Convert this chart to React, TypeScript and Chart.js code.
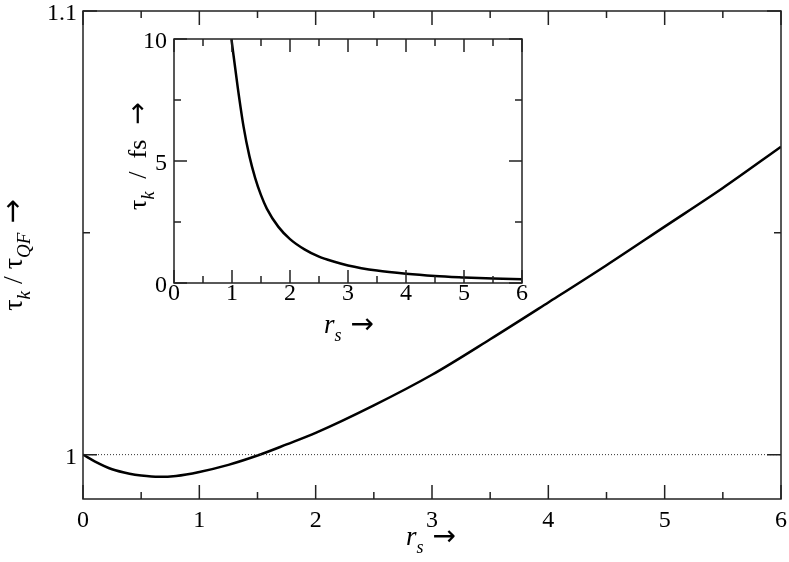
import React, { useEffect, useRef } from 'react';
import { Chart, registerables } from 'chart.js';

Chart.register(...registerables);

// ---- data ----
const mainR = [0, 0.1, 0.25, 0.4, 0.5, 0.65, 0.8, 1.0, 1.25, 1.5, 1.75, 2.0, 2.5, 3.0, 3.5, 4.0, 4.5, 5.0, 5.5, 6.0];
const mainTau = [1.0, 0.9985, 0.9967, 0.9957, 0.9953, 0.995, 0.9952, 0.9961, 0.9977, 0.9998, 1.0023, 1.0049, 1.0111, 1.018, 1.026, 1.0343, 1.0427, 1.0514, 1.0601, 1.0694];
const refR = [0, 6];
const refTau = [1, 1];
const insetR = [0.99, 1.1, 1.2, 1.3, 1.4, 1.5, 1.6, 1.8, 2.0, 2.25, 2.5, 2.75, 3.0, 3.5, 4.0, 4.5, 5.0, 5.5, 6.0];
const insetTau = [10, 8.0, 6.4, 5.2, 4.3, 3.6, 3.05, 2.3, 1.8, 1.38, 1.08, 0.88, 0.72, 0.51, 0.38, 0.29, 0.23, 0.18, 0.15];

// ---- ticks ----
const mainXLabels = [0, 1, 2, 3, 4, 5, 6];
const mainXMinor = [0.5, 1.5, 2.5, 3.5, 4.5, 5.5];
const mainYLabels = [1, 1.1];
const mainYMinor = [1.05];
const insetXLabels = [0, 1, 2, 3, 4, 5, 6];
const insetXMinor = [0.5, 1.5, 2.5, 3.5, 4.5, 5.5];
const insetYLabels = [0, 5, 10];
const insetYMinor = [2.5, 7.5];

const SERIF = '"Liberation Serif"';
const ARROW = '"DejaVu Sans"';

type Part = { t: string; it?: boolean; sub?: boolean; fam?: string; scale?: number };

function drawRich(ctx: CanvasRenderingContext2D, parts: Part[], cx: number, cy: number, size: number, rotate: boolean) {
  ctx.save();
  ctx.translate(cx, cy);
  if (rotate) ctx.rotate(-Math.PI / 2);
  const fontOf = (p: Part) =>
    `${p.it ? 'italic ' : ''}${Math.round(size * (p.sub ? 0.68 : 1) * (p.scale || 1))}px ${p.fam || SERIF}`;
  let total = 0;
  const widths = parts.map((p) => {
    ctx.font = fontOf(p);
    const w = ctx.measureText(p.t).width;
    total += w;
    return w;
  });
  let x = -total / 2;
  ctx.fillStyle = '#000';
  ctx.textBaseline = 'alphabetic';
  ctx.textAlign = 'left';
  parts.forEach((p, i) => {
    ctx.font = fontOf(p);
    ctx.fillText(p.t, x, p.sub ? size * 0.3 : 0);
    x += widths[i];
  });
  ctx.restore();
}

type FrameSpec = {
  id: string;
  xMajor: number[];
  xMinor: number[];
  yMajor: number[];
  yMinor: number[];
  major: number;
  minor: number;
  xLabelDy: number; // baseline offset below plot bottom
  yLabelDx: number; // right edge offset left of plot left
  titles: (ctx: CanvasRenderingContext2D) => void;
};

function framePlugin(spec: FrameSpec) {
  return {
    id: spec.id,
    afterDatasetsDraw(chart: any) {
      const ctx: CanvasRenderingContext2D = chart.ctx;
      const a = chart.chartArea;
      const xs = chart.scales.x;
      const ys = chart.scales.y;
      ctx.save();
      ctx.strokeStyle = '#222';
      ctx.lineWidth = 1.5;
      ctx.strokeRect(a.left, a.top, a.right - a.left, a.bottom - a.top);
      ctx.beginPath();
      const xt = (vals: number[], len: number) => {
        vals.forEach((v) => {
          const px = xs.getPixelForValue(v);
          ctx.moveTo(px, a.bottom);
          ctx.lineTo(px, a.bottom - len);
          ctx.moveTo(px, a.top);
          ctx.lineTo(px, a.top + len);
        });
      };
      const yt = (vals: number[], len: number) => {
        vals.forEach((v) => {
          const py = ys.getPixelForValue(v);
          ctx.moveTo(a.left, py);
          ctx.lineTo(a.left + len, py);
          ctx.moveTo(a.right, py);
          ctx.lineTo(a.right - len, py);
        });
      };
      xt(spec.xMajor, spec.major);
      xt(spec.xMinor, spec.minor);
      yt(spec.yMajor, spec.major);
      yt(spec.yMinor, spec.minor);
      ctx.stroke();

      // tick labels
      ctx.fillStyle = '#000';
      ctx.font = `24px ${SERIF}`;
      ctx.textBaseline = 'alphabetic';
      ctx.textAlign = 'center';
      spec.xMajor.forEach((v) => {
        ctx.fillText(String(v), xs.getPixelForValue(v), a.bottom + spec.xLabelDy);
      });
      ctx.textAlign = 'right';
      spec.yMajor.forEach((v) => {
        ctx.fillText(String(v), a.left - spec.yLabelDx, ys.getPixelForValue(v) + 9);
      });

      spec.titles(ctx);
      ctx.restore();
    },
  };
}

const pts = (xs: number[], ys: number[]) => xs.map((x, i) => ({ x, y: ys[i] }));

function axisScale(min: number, max: number, labels: number[], pos: 'x' | 'y', size: number) {
  return {
    type: 'linear',
    min,
    max,
    grid: { display: false },
    border: { display: false },
    afterBuildTicks: (scale: any) => {
      scale.ticks = labels.map((v) => ({ value: v }));
    },
    afterFit: (scale: any) => {
      if (pos === 'x') {
        scale.height = size;
        scale.paddingLeft = 0;
        scale.paddingRight = 0;
      } else {
        scale.width = size;
        scale.paddingTop = 0;
        scale.paddingBottom = 0;
      }
    },
    ticks: { display: false },
  };
}

const arrowPart: Part = { t: ' \u2192', fam: ARROW, scale: 1.04 };

export default function App() {
  const mainRef = useRef<HTMLCanvasElement>(null);
  const insetRef = useRef<HTMLCanvasElement>(null);

  useEffect(() => {
    const main = new Chart(mainRef.current as HTMLCanvasElement, {
      type: 'line',
      data: {
        datasets: [
          {
            data: pts(refR, refTau),
            borderColor: '#333',
            borderWidth: 1,
            borderDash: [1, 2],
            pointRadius: 0,
            tension: 0,
          },
          {
            data: pts(mainR, mainTau),
            borderColor: '#000',
            borderWidth: 2.5,
            pointRadius: 0,
            cubicInterpolationMode: 'monotone',
          },
        ],
      },
      options: {
        responsive: false,
        animation: false,
        events: [],
        layout: { padding: { top: 11, right: 8, left: 0, bottom: 0 } },
        plugins: { legend: { display: false }, tooltip: { enabled: false } },
        scales: {
          x: axisScale(0, 6, mainXLabels, 'x', 63) as any,
          y: axisScale(0.99, 1.1, mainYLabels, 'y', 83) as any,
        },
      },
      plugins: [
        framePlugin({
          id: 'mainFrame',
          xMajor: mainXLabels,
          xMinor: mainXMinor,
          yMajor: mainYLabels,
          yMinor: mainYMinor,
          major: 14,
          minor: 7,
          xLabelDy: 28,
          yLabelDx: 6,
          titles: (ctx) => {
            drawRich(ctx, [{ t: 'r', it: true }, { t: 's', it: true, sub: true }, arrowPart], 431, 545, 27, false);
            drawRich(
              ctx,
              [
                { t: '\u03c4' },
                { t: 'k', it: true, sub: true },
                { t: ' / \u03c4' },
                { t: 'QF', it: true, sub: true },
                arrowPart,
              ],
              22,
              255,
              28,
              true
            );
          },
        }) as any,
      ],
    } as any);

    const inset = new Chart(insetRef.current as HTMLCanvasElement, {
      type: 'line',
      data: {
        datasets: [
          {
            data: pts(insetR, insetTau),
            borderColor: '#000',
            borderWidth: 2.5,
            pointRadius: 0,
            cubicInterpolationMode: 'monotone',
          },
        ],
      },
      options: {
        responsive: false,
        animation: false,
        events: [],
        layout: { padding: { top: 19, right: 18, left: 0, bottom: 0 } },
        plugins: { legend: { display: false }, tooltip: { enabled: false } },
        scales: {
          x: axisScale(0, 6, insetXLabels, 'x', 77) as any,
          y: axisScale(0, 10, insetYLabels, 'y', 54) as any,
        },
      },
      plugins: [
        framePlugin({
          id: 'insetFrame',
          xMajor: insetXLabels,
          xMinor: insetXMinor,
          yMajor: insetYLabels,
          yMinor: insetYMinor,
          major: 13,
          minor: 7,
          xLabelDy: 17,
          yLabelDx: 7,
          titles: (ctx) => {
            drawRich(ctx, [{ t: 'r', it: true }, { t: 's', it: true, sub: true }, arrowPart], 229, 313, 27, false);
            drawRich(
              ctx,
              [{ t: '\u03c4' }, { t: 'k', it: true, sub: true }, { t: '  /  fs ' }, arrowPart],
              26,
              136,
              26,
              true
            );
          },
        }) as any,
      ],
    } as any);

    return () => {
      main.destroy();
      inset.destroy();
    };
  }, []);

  return (
    <div style={{ position: 'fixed', left: 0, top: 0, width: 789, height: 562, background: '#fff' }}>
      <canvas ref={mainRef} width={789} height={562} style={{ position: 'absolute', left: 0, top: 0, display: 'block' }} />
      <canvas ref={insetRef} width={420} height={340} style={{ position: 'absolute', left: 120, top: 20, display: 'block' }} />
    </div>
  );
}
